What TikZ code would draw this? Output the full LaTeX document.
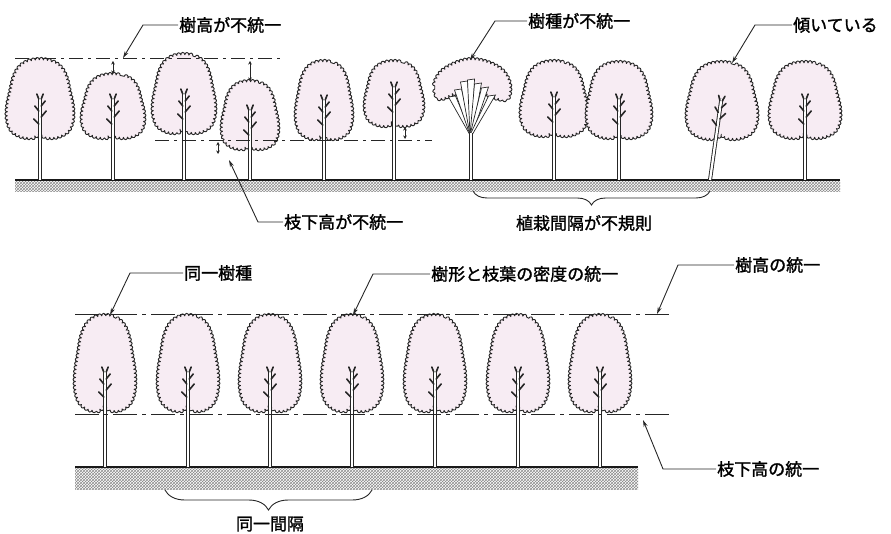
\documentclass[tikz,border=0pt]{standalone}
\usepackage{fontspec}
\newfontfamily\jp[FakeBold=1.5]{Noto Sans CJK JP}
\usetikzlibrary{positioning, arrows.meta, decorations.pathmorphing,
  decorations.pathreplacing, patterns}
\definecolor{leafpink}{HTML}{F7ECF3}

% crown outline: centre x, top y, bottom y, half width
\newcommand{\crown}[4]{%
  \begin{scope}[shift={(#1,#2)}, xscale={#4/30}, yscale={(#3-#2)/80}]
    \draw[crownline] plot[smooth cycle, tension=0.6] coordinates
      {(0,0) (11,2) (19,8) (24,18) (27,32) (30,48) (30,62) (26,73) (17,79) (7,80) (0,77)
       (-7,80) (-17,79) (-26,73) (-30,62) (-30,48) (-27,32) (-24,18) (-19,8) (-11,2)};
  \end{scope}}

% small twig with leaves on top of the stem
\newcommand{\twig}[2]{%
  \draw[twigline] (#1-1.2,#2+27) -- ++(-5,-5)
                  (#1+1.2,#2+20) -- ++(5,-6)
                  (#1-1.2,#2+14) -- ++(-4,-5)
                  (#1+1.2,#2+9) -- ++(4,-5)
                  (#1-1.2,#2+2) -- ++(-2,-5)
                  (#1+1.2,#2+2) -- ++(2,-5);}

% stem: x, ground y, top y
\newcommand{\trunk}[3]{%
  \draw[stemline] (#1,#2) -- (#1,#3);
  \twig{#1}{#3}}

% whole tree: x, crown top, crown bottom, half width, ground y
\newcommand{\drawtree}[5]{%
  \crown{#1}{#2}{#3}{#4}
  \trunk{#1}{#5}{#3-40}}

\begin{document}
\begin{tikzpicture}
[x=1pt, y=-1pt,
 crownline/.style={fill=leafpink, draw=black!85, line width=0.9pt, line join=round,
   decorate, decoration={bumps, segment length=8pt, amplitude=2.6pt}},
 stemline/.style={draw=black!85, line width=0.9pt, double=white, double distance=2.2pt},
 twigline/.style={draw=black!85, line width=1.6pt, line cap=round},
 hline/.style={draw=black!85, line width=1pt, dash pattern=on 14pt off 5pt on 3pt off 5pt},
 dotline/.style={draw=black!85, line width=1pt, dash pattern=on 24pt off 5pt on 4pt off 5pt},
 dimarrow/.style={draw=black!85, line width=0.7pt,
   {Stealth[length=3.5pt, width=3.5pt]}-{Stealth[length=3.5pt, width=3.5pt]}},
 leader/.style={draw=black!85, line width=0.9pt, -{Stealth[length=7pt, width=4pt]}},
 curly/.style={draw=black!85, line width=0.9pt, decorate,
   decoration={brace, mirror, amplitude=#1}},
 groundline/.style={draw=black!90, line width=1.8pt},
 soil/.style={pattern=crosshatch, pattern color=black!45},
 lbl/.style={font=\jp\fontsize{17}{19}\selectfont, inner sep=1pt}]

\useasboundingbox (0,0) rectangle (891,534);

% ---------- mixed row ----------
\fill[soil] (15,181) rectangle (840,192);
\draw[groundline] (15,180) -- (840,180);

\drawtree{40}{60}{137}{32}{180}
\drawtree{113}{75}{137}{30}{180}
\drawtree{184}{55}{132}{30}{180}
\drawtree{250}{82}{148}{27}{180}
\drawtree{324}{62}{138}{27}{180}
\drawtree{394}{62}{125}{28}{180}

% umbrella shaped tree
\draw[crownline] plot[smooth cycle, tension=0.6] coordinates
  {(440,98) (435,86) (441,73) (455,64) (471,60) (488,63) (502,71)
   (509,84) (507,98) (494,97) (482,92) (471,94) (458,92)};
\foreach \ex/\ey in {452/97, 458/90, 464/82, 471/80, 478/84, 485/88, 492/96}
  \filldraw[fill=white, draw=black!85, line width=0.7pt]
    (470,135) -- (\ex-3.5,\ey) -- (\ex+3.5,\ey-1) -- (472,135) -- cycle;
\draw[stemline] (471,180) -- (471,133);

\drawtree{554}{62}{135}{32}{180}
\drawtree{619}{63}{137}{31}{180}

% leaning tree
\crown{722}{63}{138}{34}
\begin{scope}[rotate around={-8:(710,180)}]
  \trunk{710}{180}{98}
\end{scope}

\drawtree{805}{63}{137}{34}{180}

% height levels
\draw[hline] (15,59) -- (283,59);
\draw[hline] (155,141) -- (432,141);
\draw[dimarrow] (113,61) -- (113,74);
\draw[dimarrow] (250,61) -- (250,81);
\draw[dimarrow] (218,142) -- (218,154);
\draw[dimarrow] (405,127) -- (405,139);

% labels and leaders
\node[lbl, anchor=west] (hUneven) at (178,25) {樹高が不統一};
\coordinate (hUnevenBend) at (143,25);
\coordinate (hUnevenTip) at (123,58);
\draw[leader] (hUneven.west) -- (hUnevenBend) -- (hUnevenTip);

\node[lbl, anchor=west] (kindUneven) at (527,21) {樹種が不統一};
\coordinate (kindUnevenBend) at (495,21);
\coordinate (kindUnevenTip) at (470,60);
\draw[leader] (kindUneven.west) -- (kindUnevenBend) -- (kindUnevenTip);

\node[lbl, anchor=west] (leaning) at (792,25) {傾いている};
\coordinate (leaningBend) at (755,25);
\coordinate (leaningTip) at (732,63);
\draw[leader] (leaning.west) -- (leaningBend) -- (leaningTip);

\node[lbl, anchor=west] (bUneven) at (283,222) {枝下高が不統一};
\coordinate (bUnevenBend) at (258,222);
\coordinate (bUnevenTip) at (229,160);
\draw[leader] (bUneven.west) -- (bUnevenBend) -- (bUnevenTip);

\coordinate (gapL) at (473,191);
\coordinate (gapR) at (710,191);
\draw[curly=14pt] (gapL) -- (gapR);
\node[lbl] (gapIrregular) at (584,223) {植栽間隔が不規則};

% ---------- uniform row ----------
\fill[soil] (75,468) rectangle (638,489);
\draw[groundline] (75,467) -- (638,467);

\foreach \tx in {105,188,270,352,435,518,600}{
  \drawtree{\tx}{316}{410}{29}{467}
}

\draw[dotline] (75,315) -- (670,315);
\draw[dotline] (75,414) -- (670,414);

\node[lbl, anchor=west] (sameKind) at (183,273) {同一樹種};
\coordinate (sameKindBend) at (130,273);
\coordinate (sameKindTip) at (110,315);
\draw[leader] (sameKind.west) -- (sameKindBend) -- (sameKindTip);

\node[lbl, anchor=west] (sameForm) at (430,274) {樹形と枝葉の密度の統一};
\coordinate (sameFormBend) at (373,274);
\coordinate (sameFormTip) at (353,315);
\draw[leader] (sameForm.west) -- (sameFormBend) -- (sameFormTip);

\node[lbl, anchor=west] (sameHeight) at (734,265) {樹高の統一};
\coordinate (sameHeightBend) at (678,265);
\coordinate (sameHeightTip) at (657,314);
\draw[leader] (sameHeight.west) -- (sameHeightBend) -- (sameHeightTip);

\node[lbl, anchor=west] (sameBranch) at (716,469) {枝下高の統一};
\coordinate (sameBranchBend) at (663,469);
\coordinate (sameBranchTip) at (643,420);
\draw[leader] (sameBranch.west) -- (sameBranchBend) -- (sameBranchTip);

\coordinate (sameL) at (165,490);
\coordinate (sameR) at (372,490);
\draw[curly=20pt] (sameL) -- (sameR);
\node[lbl] (sameGap) at (270,524) {同一間隔};

\end{tikzpicture}
\end{document}
